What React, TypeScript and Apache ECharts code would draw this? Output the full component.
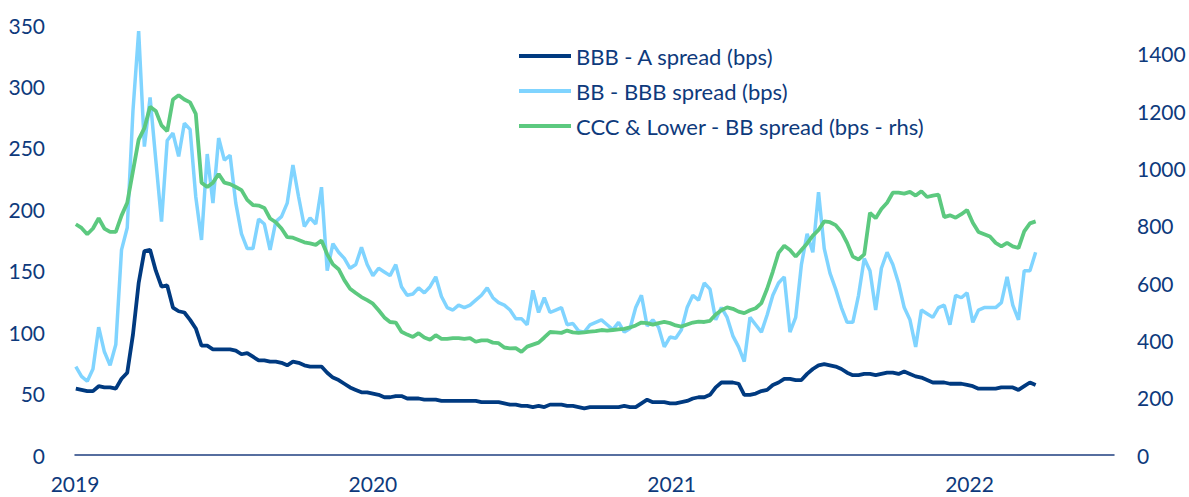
import React, { useEffect, useRef } from "react";
import * as echarts from "echarts";

// Weekly observations starting 2019-01-02
const startYear = 2019;
const startMonth = 0;
const startDay = 2;

const bbbA = [
  54, 53, 52, 52, 56, 55, 55, 54, 62, 67,
  98, 140, 166, 167, 150, 137, 138, 120, 117, 116,
  110, 103, 89, 89, 86, 86, 86, 86, 85, 82,
  83, 80, 77, 77, 76, 76, 75, 73, 76, 75,
  73, 72, 72, 72, 67, 63, 61, 58, 55, 53,
  51, 51, 50, 49, 47, 47, 48, 48, 46, 46,
  46, 45, 45, 45, 44, 44, 44, 44, 44, 44,
  44, 43, 43, 43, 43, 42, 41, 41, 40, 40,
  39, 40, 39, 41, 41, 41, 40, 40, 39, 38,
  39, 39, 39, 39, 39, 39, 40, 39, 39, 42,
  45, 43, 43, 43, 42, 42, 43, 44, 46, 47,
  47, 49, 55, 59, 59, 59, 58, 49, 49, 50,
  52, 53, 57, 59, 62, 62, 61, 61, 66, 70,
  73, 74, 73, 72, 70, 67, 65, 65, 66, 66,
  65, 66, 67, 67, 66, 68, 66, 64, 63, 61,
  59, 59, 59, 58, 58, 58, 57, 56, 54, 54,
  54, 54, 55, 55, 55, 53, 56, 59, 57,
];

const bbBbb = [
  72, 64, 60, 70, 104, 84, 73, 90, 167, 185,
  280, 345, 251, 291, 240, 190, 256, 262, 243, 270,
  265, 210, 175, 245, 205, 258, 240, 244, 205, 180,
  168, 168, 192, 188, 167, 190, 194, 205, 236, 210,
  186, 193, 188, 218, 150, 172, 165, 160, 152, 155,
  169, 155, 146, 152, 149, 146, 155, 137, 130, 131,
  136, 132, 137, 145, 129, 120, 118, 122, 120, 122,
  126, 130, 136, 128, 124, 122, 118, 111, 111, 106,
  134, 116, 128, 116, 118, 120, 106, 107, 101, 100,
  106, 108, 110, 106, 102, 108, 100, 103, 120, 130,
  105, 110, 104, 88, 96, 95, 102, 120, 130, 126,
  140, 135, 110, 120, 112, 97, 88, 76, 112, 106,
  100, 114, 130, 140, 145, 100, 112, 155, 180, 165,
  214, 168, 148, 135, 120, 108, 108, 130, 160, 150,
  118, 152, 165, 155, 140, 120, 110, 88, 118, 115,
  112, 120, 122, 106, 130, 128, 132, 108, 118, 120,
  120, 120, 124, 145, 122, 110, 150, 150, 165,
];

const cccBb = [
  805, 792, 770, 790, 826, 790, 778, 778, 835, 880,
  990, 1100, 1140, 1215, 1200, 1150, 1130, 1240, 1255, 1240,
  1230, 1190, 950, 935, 950, 980, 950, 945, 935, 924,
  890, 872, 870, 862, 825, 812, 790, 760, 758, 750,
  742, 738, 733, 748, 700, 665, 648, 610, 580, 565,
  551, 540, 528, 505, 480, 464, 462, 430, 420, 412,
  425, 410, 402, 418, 405, 405, 408, 408, 405, 408,
  395, 400, 400, 392, 390, 375, 372, 373, 360, 378,
  385, 392, 410, 429, 428, 426, 434, 428, 426, 428,
  430, 432, 436, 434, 436, 438, 440, 445, 452, 462,
  460, 455, 460, 464, 460, 452, 448, 455, 462, 465,
  464, 468, 490, 505, 515, 510, 500, 495, 505, 512,
  530, 580, 640, 705, 730, 715, 692, 715, 738, 765,
  785, 815, 812, 802, 778, 740, 692, 682, 700, 845,
  826, 858, 880, 915, 915, 912, 918, 905, 920, 900,
  905, 908, 830, 836, 828, 840, 855, 810, 778, 770,
  762, 740, 728, 740, 728, 722, 780, 808, 815,
];

const seriesNames = [
  "BBB - A spread (bps)",
  "BB - BBB spread (bps)",
  "CCC & Lower - BB spread (bps - rhs)",
];

const TEXT = "#0E3A7C";
const FONT = "Lato, 'Noto Sans', sans-serif";

export default function App() {
  const ref = useRef<HTMLDivElement>(null);
  useEffect(() => {
    document.body.style.margin = "0";
    if (!ref.current) return;
    const chart = echarts.init(ref.current, null, { renderer: "svg" });
    const dates = bbbA.map((_, k) =>
      new Date(startYear, startMonth, startDay + 7 * k).getTime()
    );
    const pair = (arr: number[]) => arr.map((v, i) => [dates[i], v]);
    const DAY = 86400000;
    chart.setOption({
      animation: false,
      textStyle: { fontFamily: FONT },
      grid: {
        left: 75,
        right: 75,
        top: 25,
        bottom: 42,
        outerBoundsMode: "none",
      },
      legend: {
        orient: "vertical",
        left: 514,
        top: 40,
        itemWidth: 52,
        itemHeight: 4,
        itemGap: 13,
        icon: "rect",
        textStyle: {
          color: TEXT,
          fontSize: 22,
          lineHeight: 22,
          fontFamily: FONT,
        },
        data: seriesNames,
      },
      xAxis: {
        type: "time",
        min: new Date(2019, 0, 1).getTime(),
        max: new Date(2022, 5, 27).getTime(),
        minInterval: 365 * DAY,
        axisLine: { lineStyle: { color: "#1F3F80", width: 1.5 } },
        axisTick: { show: false },
        splitLine: { show: false },
        axisLabel: {
          formatter: "{yyyy}",
          color: TEXT,
          fontSize: 21,
          fontFamily: FONT,
          margin: 18,
        },
      },
      yAxis: [
        {
          type: "value",
          min: 0,
          max: 350,
          interval: 50,
          axisLine: { show: false },
          axisTick: { show: false },
          splitLine: { show: false },
          axisLabel: {
            color: TEXT,
            fontSize: 21,
            fontFamily: FONT,
            margin: 30,
          },
        },
        {
          type: "value",
          position: "right",
          min: 0,
          max: 1500,
          interval: 200,
          axisLine: { show: false },
          axisTick: { show: false },
          splitLine: { show: false },
          axisLabel: {
            color: TEXT,
            fontSize: 21,
            fontFamily: FONT,
            margin: 23,
            formatter: (v: number) => (v > 1400 ? "" : String(v)),
          },
        },
      ],
      series: [
        {
          name: seriesNames[0],
          type: "line",
          yAxisIndex: 0,
          data: pair(bbbA),
          showSymbol: false,
          symbol: "none",
          lineStyle: { color: "#003A80", width: 3.8 },
          itemStyle: { color: "#003A80" },
        },
        {
          name: seriesNames[1],
          type: "line",
          yAxisIndex: 0,
          data: pair(bbBbb),
          showSymbol: false,
          symbol: "none",
          lineStyle: { color: "#80D4FF", width: 3.5 },
          itemStyle: { color: "#80D4FF" },
        },
        {
          name: seriesNames[2],
          type: "line",
          yAxisIndex: 1,
          data: pair(cccBb),
          showSymbol: false,
          symbol: "none",
          lineStyle: { color: "#5CC97F", width: 3.8 },
          itemStyle: { color: "#5CC97F" },
        },
      ],
    });
    return () => chart.dispose();
  }, []);
  return <div ref={ref} style={{ width: 1189, height: 497 }} />;
}
